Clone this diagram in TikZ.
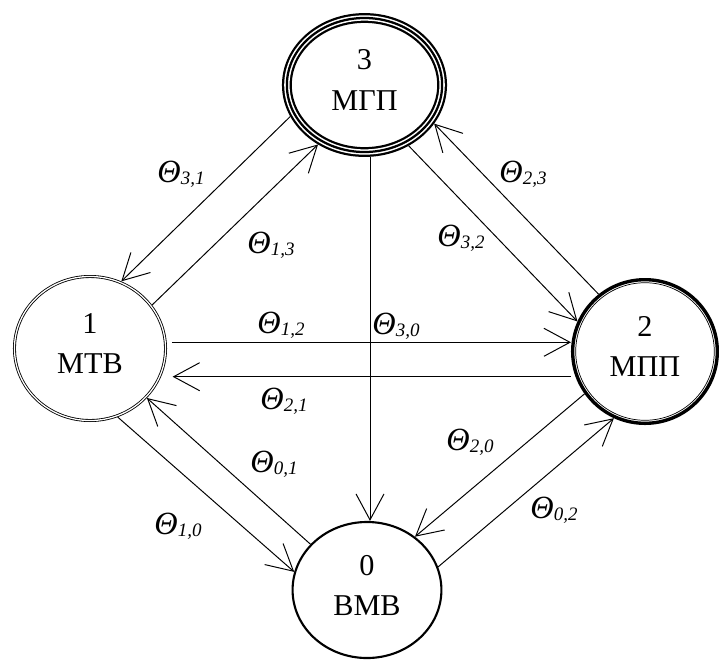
\documentclass[tikz,border=0pt]{standalone}
\usepackage{fontspec}
\setmainfont{Liberation Serif}
\usetikzlibrary{shapes.geometric,arrows.meta}

\newcommand{\trate}[2]{\textit{Θ\raisebox{-0.07em}{\fontsize{13.5}{13.5}\selectfont #1,#2}}}

\begin{document}
\begin{tikzpicture}[
    x=0.025cm, y=-0.025cm,
    mode/.style={ellipse,inner sep=0pt,align=center,text depth=0.25cm,font=\fontsize{21.5}{28.5}\selectfont},
    triple/.style={mode,minimum width=3.88cm,minimum height=3.35cm,outer sep=3.5pt,
        preaction={draw=black,line width=7pt},draw=white,line width=3.8pt,
        postaction={draw=black,line width=1.6pt}},
    dbl/.style={mode,draw,line width=0.6pt,double,double distance=0.9pt,outer sep=1.05pt,
        minimum width=3.776cm,minimum height=3.6cm},
    heavy/.style={mode,draw,line width=2.4pt,outer sep=1.2pt,minimum width=3.616cm,minimum height=3.59cm},
    bold/.style={mode,draw,line width=1.5pt,outer sep=0.75pt,minimum width=3.72cm,minimum height=3.4cm},
    arrow/.style={-{Straight Barb[length=0.65cm,width=0.7cm]},line width=0.7pt},
    lbl/.style={inner sep=0pt,font=\fontsize{23}{26}\selectfont}
]
\useasboundingbox (0,0) rectangle (719,660);

\node[triple] (n3) at (364.5,85) {3\\МГП};
\node[dbl] (n1) at (90,348.5) {1\\МТВ};
\node[heavy] (n2) at (645,351.5) {2\\МПП};
\node[bold] (n0) at (367,590) {0\\ВМВ};
\draw[line width=0.5pt] (n2.center) ellipse [x radius=1.732cm, y radius=1.719cm];

\draw[arrow] (n3.203) -- (n1.65);
\draw[arrow] (n1.35) -- (n3.232);
\draw[arrow] (n3.306) -- (n2.156);
\draw[arrow] (n2.129) -- (n3.331);
\draw[arrow] (n1.292) -- (n0.166);
\draw[arrow] (n0.141) -- (n1.319);
\draw[arrow] (n2.215) -- (n0.48);
\draw[arrow] (n0.18) -- (n2.245);

\coordinate (s30) at ([xshift=0.1375cm]n3.south);
\draw[arrow] (s30) -- (s30 |- n0.north);
\coordinate (s12) at ([xshift=0.12cm,yshift=0.155cm]n1.east);
\draw[arrow] (s12) -- (s12 -| n2.west);
\coordinate (s21) at ([yshift=-0.63cm]n2.west);
\coordinate (e21) at ([xshift=0.14cm]n1.east);
\draw[arrow] (s21) -- (s21 -| e21);

\node[lbl] (t31) at (181,174) {\trate{3}{1}};
\node[lbl] (t13) at (271,245) {\trate{1}{3}};
\node[lbl] (t30) at (396,326) {\trate{3}{0}};
\node[lbl] (t32) at (461,238) {\trate{3}{2}};
\node[lbl] (t23) at (523,174) {\trate{2}{3}};
\node[lbl] (t12) at (281,325) {\trate{1}{2}};
\node[lbl] (t21) at (284,401) {\trate{2}{1}};
\node[lbl] (t01) at (274,464) {\trate{0}{1}};
\node[lbl] (t10) at (178,526) {\trate{1}{0}};
\node[lbl] (t20) at (470,442) {\trate{2}{0}};
\node[lbl] (t02) at (554,510) {\trate{0}{2}};

\end{tikzpicture}
\end{document}
